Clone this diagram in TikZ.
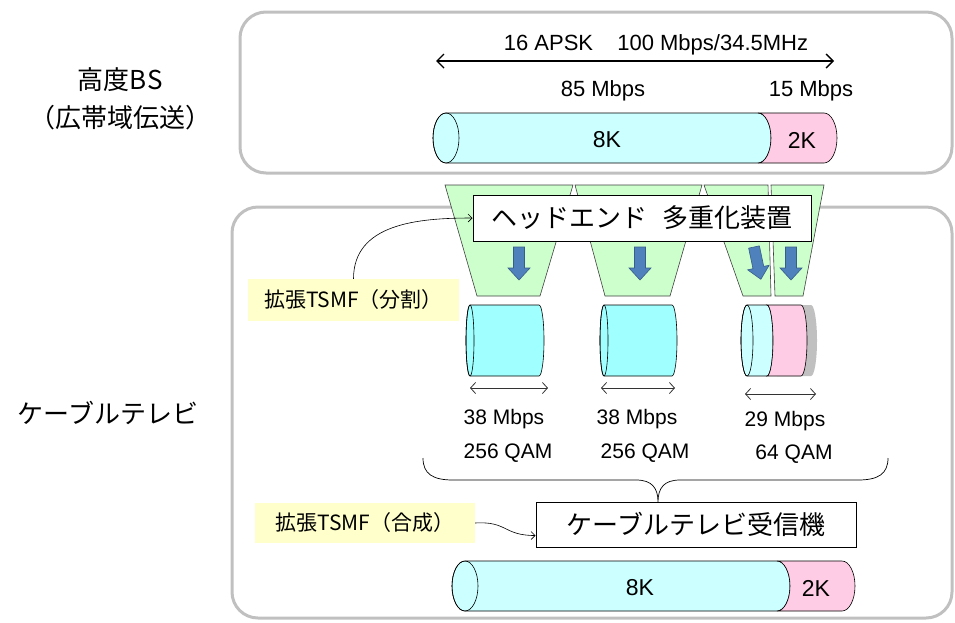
\documentclass[tikz,border=0pt]{standalone}
\usepackage{fontspec}
\setmainfont{Liberation Sans}
\newfontfamily\jp{Noto Sans CJK JP}
\usetikzlibrary{arrows.meta}
\definecolor{framegray}{HTML}{C0C0C0}
\definecolor{trapgreen}{HTML}{CCFFCC}
\definecolor{cyanlt}{HTML}{CCFFFF}
\definecolor{cyanmid}{HTML}{A0FFFF}
\definecolor{pinklt}{HTML}{FFCCE5}
\definecolor{labelyellow}{HTML}{FFFFCC}
\definecolor{arrowblue}{HTML}{4F81BD}
\definecolor{arrowdark}{HTML}{385D8A}
\definecolor{shadowgray}{HTML}{C0C0C0}
\newcommand\myfs[1]{\fontsize{#1}{#1}\selectfont}
\begin{document}
\begin{tikzpicture}[x=1pt,y=-1pt,
  frame/.style={draw=framegray, line width=3pt, rounded corners=26pt},
  trap/.style={fill=trapgreen, draw=black!75, line width=0.6pt},
  cylline/.style={draw=black, line width=0.6pt},
  whitebox/.style={draw=black, line width=1pt, fill=white, inner sep=0pt},
  tag/.style={fill=labelyellow, inner sep=0pt},
  barrow/.style={fill=arrowblue, draw=arrowdark, line width=0.6pt},
  dblarrow/.style={draw=black!80, line width=0.8pt, {Straight Barb[length=5pt,width=11pt]}-{Straight Barb[length=5pt,width=11pt]}},
  conn/.style={draw=black, line width=0.6pt, -{Straight Barb[length=4pt,width=8pt]}},
  lab/.style={inner sep=0pt}
]
\useasboundingbox (0,0) rectangle (955,622);

% frames
\draw[frame] (240,12) rectangle (952,173);
\draw[frame] (232,207) rectangle (952,618);

% left titles
\node[lab] (bs1) at (120,80) {\jp\myfs{26}高度B\kern1pt S};
\node[lab] (bs2) at (120,118) {\jp\myfs{26}（広帯域伝送）};
\node[lab] (catv) at (108,413) {\jp\myfs{26}ケーブルテレビ};

% top part
\node[lab] (apsk) at (656,45) {\myfs{22}16 APSK\hspace{1.1em}100 Mbps/34.5MHz};
\coordinate (aL) at (436,61);
\coordinate (aR) at (834,61);
\draw[black, line width=1.4pt, {Straight Barb[length=7pt,width=14pt]}-{Straight Barb[length=7pt,width=14pt]}] (aL) -- (aR);
\node[lab] (r85) at (603,91) {\myfs{22}85 Mbps};
\node[lab] (r15) at (811,91) {\myfs{22}15 Mbps};

% top cylinder
\draw[cylline, fill=cyanlt] (446,113) -- (758,113) arc[start angle=-90,end angle=90,x radius=13,y radius=25] -- (446,163) arc[start angle=90,end angle=270,x radius=13,y radius=25] -- cycle;
\draw[cylline, fill=pinklt] (758,113) -- (824,113) arc[start angle=-90,end angle=90,x radius=13,y radius=25] -- (758,163) arc[start angle=90,end angle=-90,x radius=13,y radius=25] -- cycle;
\draw[cylline] (446,138) ellipse [x radius=13, y radius=25];
\node[lab] (k8a) at (607,140) {\myfs{23}8K};
\node[lab] (k2a) at (802,140) {\myfs{23}2K};

% trapezoids
\draw[trap] (445,185) -- (573,185) -- (540,296) -- (477,296) -- cycle;
\draw[trap] (575,185) -- (702,185) -- (670,296) -- (605,296) -- cycle;
\draw[trap] (704,185) -- (768,185) -- (771,296) -- (743,296) -- cycle;
\draw[trap] (771,185) -- (824,185) -- (803,296) -- (775,296) -- cycle;

% headend box
\node[whitebox, minimum width=338pt, minimum height=46pt] (headend) at (642,218) {\jp\myfs{26}ヘッドエンド\ \hspace{0.35em}多重化装置};

% block arrows
\foreach \ax/\rot in {519/0, 640/0, 754/12, 791/0}{
  \begin{scope}[shift={(\ax,247)}, rotate=\rot]
    \draw[barrow] (-5.5,0) -- (5.5,0) -- (5.5,21) -- (11,21) -- (0,33) -- (-11,21) -- (-5.5,21) -- cycle;
  \end{scope}
}

% TSMF split label
\node[tag, minimum width=211pt, minimum height=42pt] (tsmf1) at (353.5,300) {\jp\myfs{21}拡張TSMF（分割）};
\draw[conn] (tsmf1.north) .. controls +(0,-55) and +(-55,0) .. (headend.west);

% small cylinders
\draw[cylline, fill=cyanmid] (470,305) -- (539,305) arc[start angle=-90,end angle=90,x radius=5,y radius=35.5] -- (470,376) arc[start angle=90,end angle=270,x radius=4,y radius=35.5] -- cycle;
\draw[cylline] (470,340.5) ellipse [x radius=4, y radius=35.5];
\draw[cylline, fill=cyanmid] (604,305) -- (672,305) arc[start angle=-90,end angle=90,x radius=5,y radius=35.5] -- (604,376) arc[start angle=90,end angle=270,x radius=4,y radius=35.5] -- cycle;
\draw[cylline] (604,340.5) ellipse [x radius=4, y radius=35.5];
% third cylinder with shadow
\fill[shadowgray] (777,305) -- (811,305) arc[start angle=-90,end angle=90,x radius=6,y radius=35.5] -- (777,376) -- cycle;
\draw[cylline, fill=cyanlt] (747,305) -- (767,305) arc[start angle=-90,end angle=90,x radius=6,y radius=35.5] -- (747,376) arc[start angle=90,end angle=270,x radius=6,y radius=35.5] -- cycle;
\draw[cylline, fill=pinklt] (767,305) -- (801,305) arc[start angle=-90,end angle=90,x radius=6,y radius=35.5] -- (767,376) arc[start angle=90,end angle=-90,x radius=6,y radius=35.5] -- cycle;
\draw[cylline] (747,340.5) ellipse [x radius=6, y radius=35.5];

% width arrows
\coordinate (w1L) at (470,388); \coordinate (w1R) at (548,388);
\coordinate (w2L) at (601,388); \coordinate (w2R) at (675,388);
\coordinate (w3L) at (745,394); \coordinate (w3R) at (816,394);
\draw[dblarrow] (w1L) -- (w1R);
\draw[dblarrow] (w2L) -- (w2R);
\draw[dblarrow] (w3L) -- (w3R);

\node[lab] (m1) at (504,419) {\myfs{21}38 Mbps};
\node[lab] (q1) at (508,453) {\myfs{21}256 QAM};
\node[lab] (m2) at (637,419) {\myfs{21}38 Mbps};
\node[lab] (q2) at (645,453) {\myfs{21}256 QAM};
\node[lab] (m3) at (785,421) {\myfs{21}29 Mbps};
\node[lab] (q3) at (794,454) {\myfs{21}64 QAM};

% receiver
\node[whitebox, minimum width=320pt, minimum height=45pt] (receiver) at (696,524.5) {\jp\myfs{26}ケーブルテレビ受信機};

% brace
\draw[black, line width=0.7pt] (423,458) .. controls (423,474) and (433,480) .. (453,480) -- (636,480) .. controls (652,480) and (658,488) .. (658,502) .. controls (658,488) and (664,480) .. (680,480) -- (858,480) .. controls (878,480) and (888,474) .. (888,458);

% TSMF combine label
\node[tag, minimum width=220pt, minimum height=40pt] (tsmf2) at (365,523) {\jp\myfs{21}拡張TSMF（合成）};
\draw[conn] (tsmf2.east) .. controls +(32,-2) and +(-32,0) .. ([yshift=-11pt]receiver.west);

% bottom cylinder
\draw[cylline, fill=cyanlt] (465,561) -- (777,561) arc[start angle=-90,end angle=90,x radius=13,y radius=25] -- (465,611) arc[start angle=90,end angle=270,x radius=13,y radius=25] -- cycle;
\draw[cylline, fill=pinklt] (777,561) -- (842,561) arc[start angle=-90,end angle=90,x radius=13,y radius=25] -- (777,611) arc[start angle=90,end angle=-90,x radius=13,y radius=25] -- cycle;
\draw[cylline] (465,586) ellipse [x radius=13, y radius=25];
\node[lab] (k8b) at (640,588) {\myfs{23}8K};
\node[lab] (k2b) at (816,588) {\myfs{23}2K};
\end{tikzpicture}
\end{document}
